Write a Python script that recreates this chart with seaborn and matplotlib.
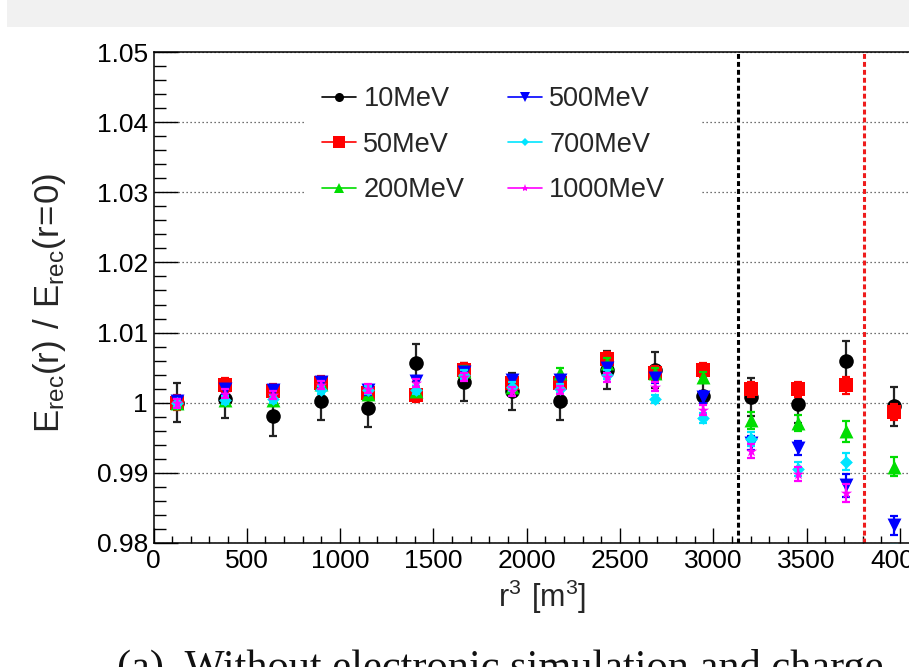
import numpy as np
import pandas as pd
import matplotlib
matplotlib.use("Agg")
import matplotlib.pyplot as plt
import seaborn as sns
from matplotlib.lines import Line2D
from matplotlib.patches import Rectangle
from matplotlib.ticker import MultipleLocator, FuncFormatter

# ---------------- data ----------------
r3 = [128, 384, 640, 896, 1152, 1408, 1664, 1920, 2176, 2432, 2688, 2944, 3200, 3456, 3712, 3968]

labels = ["10MeV", "50MeV", "200MeV", "500MeV", "700MeV", "1000MeV"]

e10 = [1.0000, 1.0005, 0.9981, 1.0003, 0.9993, 1.0057, 1.0030, 1.0016, 1.0003, 1.0047, 1.0047, 1.0009, 1.0008, 0.9998, 1.0060, 0.9995]
e50 = [1.0000, 1.0025, 1.0016, 1.0028, 1.0014, 1.0011, 1.0047, 1.0028, 1.0028, 1.0063, 1.0043, 1.0046, 1.0019, 1.0019, 1.0025, 0.9987]
e200 = [1.0000, 1.0004, 1.0004, 1.0027, 1.0013, 1.0017, 1.0045, 1.0023, 1.0042, 1.0057, 1.0043, 1.0036, 0.9975, 0.9971, 0.9959, 0.9909]
e500 = [1.0002, 1.0019, 1.0018, 1.0030, 1.0018, 1.0031, 1.0044, 1.0032, 1.0033, 1.0049, 1.0035, 1.0008, 0.9942, 0.9935, 0.9882, 0.9825]
e700 = [1.0000, 1.0004, 1.0005, 1.0018, 1.0018, 1.0018, 1.0040, 1.0023, 1.0020, 1.0040, 1.0005, 0.9978, 0.9948, 0.9906, 0.9916, 0.9785]
e1000 = [0.9999, 1.0013, 1.0011, 1.0025, 1.0020, 1.0028, 1.0037, 1.0016, 1.0018, 1.0036, 1.0023, 0.9990, 0.9931, 0.9899, 0.9871, 0.9770]

err10 = [0.0028, 0.0027, 0.0028, 0.0027, 0.0027, 0.0027, 0.0027, 0.0027, 0.0027, 0.0027, 0.0026, 0.0027, 0.0027, 0.0027, 0.0028, 0.0028]
err50 = [0.0011, 0.0010, 0.0010, 0.0010, 0.0010, 0.0010, 0.0010, 0.0010, 0.0010, 0.0010, 0.0010, 0.0010, 0.0011, 0.0011, 0.0012, 0.0011]
err200 = [0.0007, 0.0007, 0.0007, 0.0007, 0.0007, 0.0007, 0.0007, 0.0007, 0.0007, 0.0007, 0.0007, 0.0008, 0.0012, 0.0012, 0.0015, 0.0013]
err500 = [0.0007, 0.0007, 0.0007, 0.0007, 0.0007, 0.0007, 0.0007, 0.0007, 0.0007, 0.0007, 0.0007, 0.0008, 0.0010, 0.0010, 0.0017, 0.0014]
err700 = [0.0006, 0.0006, 0.0006, 0.0006, 0.0006, 0.0006, 0.0006, 0.0006, 0.0006, 0.0006, 0.0006, 0.0007, 0.0010, 0.0010, 0.0012, 0.0012]
err1000 = [0.0006, 0.0006, 0.0006, 0.0006, 0.0006, 0.0006, 0.0006, 0.0006, 0.0006, 0.0006, 0.0006, 0.0007, 0.0010, 0.0010, 0.0013, 0.0013]

vlines_x = [3130, 3805]

values = [e10, e50, e200, e500, e700, e1000]
errors = [err10, err50, err200, err500, err700, err1000]

# ---------------- style ----------------
colors = ["#000000", "#ff0000", "#00dd00", "#0000ff", "#00e5ff", "#ff00ff"]
markers = ["o", "s", "^", "v", "D", "*"]
msizes = [10.5, 9.5, 10, 10, 6.5, 8.5]
leg_msizes = [6.5, 9, 7.5, 7.5, 4.5, 6]

sns.set_theme(style="ticks")
plt.rcParams["font.family"] = ["Liberation Sans", "DejaVu Sans"]
plt.rcParams["mathtext.fontset"] = "custom"
plt.rcParams["mathtext.rm"] = "Liberation Sans"

W, H = 909, 667
fig = plt.figure(figsize=(W / 100, H / 100), dpi=100)
fig.patch.set_facecolor("white")

# top grey band of the screenshot
fig.patches.append(Rectangle((7 / W, 1 - 27 / H), 1, 27 / H, transform=fig.transFigure,
                             facecolor="#f1f1f1", edgecolor="none", zorder=0))

x0px, x4000px = 153.5, 900.0
xmax = 4400
pxu = (x4000px - x0px) / 4000
ax_right_px = x0px + xmax * pxu
ax = fig.add_axes([x0px / W, (H - 543) / H, (ax_right_px - x0px) / W, (543 - 52) / H])
ax.set_facecolor("white")

df = pd.DataFrame({
    "r3": np.tile(r3, len(labels)),
    "ratio": np.concatenate(values),
    "err": np.concatenate(errors),
    "energy": np.repeat(labels, len(r3)),
})

for i, lab in enumerate(labels):
    sub = df[df["energy"] == lab]
    ax.errorbar(sub["r3"], sub["ratio"], yerr=sub["err"], fmt="none",
                ecolor="#222222" if i == 0 else colors[i],
                elinewidth=1.6, capsize=3.0, capthick=1.6, zorder=2 + i)
    sns.scatterplot(data=sub, x="r3", y="ratio", ax=ax, color=colors[i], marker=markers[i],
                    s=msizes[i] ** 2, linewidth=0, zorder=2.5 + i, legend=False)

for xv, c in zip(vlines_x, ["black", "#ee1c1c"]):
    ax.axvline(xv, color=c, lw=2.2, ls=(0, (1.6, 1.0)), zorder=1.8)

ax.set_xlim(0, xmax)
ax.set_ylim(0.98, 1.05)
ax.set_xlabel("")
ax.set_ylabel("")

ax.xaxis.set_major_locator(MultipleLocator(500))
ax.xaxis.set_minor_locator(MultipleLocator(100))
ax.yaxis.set_major_locator(MultipleLocator(0.01))
ax.yaxis.set_minor_locator(MultipleLocator(0.002))
ax.yaxis.set_major_formatter(FuncFormatter(lambda v, p: f"{round(v, 2):g}"))
ax.xaxis.set_major_formatter(FuncFormatter(lambda v, p: f"{int(round(v))}"))

ax.tick_params(axis="both", which="both", direction="in", colors="black", labelsize=19,
               width=1.0, top=False, right=False)
ax.tick_params(axis="x", which="major", length=10.8, pad=4.5)
ax.tick_params(axis="x", which="minor", length=5.4)
ax.tick_params(axis="y", which="major", length=17, pad=4)
ax.tick_params(axis="y", which="minor", length=8.5)

for s in ax.spines.values():
    s.set_color("black")
    s.set_linewidth(1.1)

ax.set_axisbelow(True)
ax.yaxis.grid(True, which="major", color="#444444", lw=0.9, ls=(0, (1, 2.2)))
ax.xaxis.grid(False)

# white legend box hiding the grid
lx0 = (305 - x0px) / (ax_right_px - x0px)
lx1 = (700 - x0px) / (ax_right_px - x0px)
ly0 = (543 - 215) / 491
ly1 = (543 - 55) / 491
ax.add_patch(Rectangle((lx0, ly0), lx1 - lx0, ly1 - ly0, transform=ax.transAxes,
                       facecolor="white", edgecolor="none", zorder=1.5))

handles = [Line2D([0], [0], color=colors[i], lw=1.2, marker=markers[i],
                  markersize=leg_msizes[i], markeredgewidth=0) for i in range(len(labels))]
fig.legend(handles, labels, ncol=2, loc="upper left",
           bbox_to_anchor=(322 / W, 1 - 86 / H), frameon=False, borderpad=0,
           borderaxespad=0, handlelength=1.25, handletextpad=0.28, columnspacing=1.6,
           labelspacing=0.72, fontsize=19.5)

fig.text(50 / W, 1 - 303 / H, r"$\mathregular{E_{rec}(r)\ /\ E_{rec}(r\!=\!0)}$",
         rotation=90, ha="center", va="center", fontsize=25)
fig.text(542 / W, 1 - 597 / H, r"$\mathregular{r^{3}\ [m^{3}]}$",
         ha="center", va="center", fontsize=22)

fig.text(117 / W, (H - 679) / H, "(a)  Without electronic simulation and charge",
         family=["Liberation Serif", "DejaVu Serif"], fontsize=30.5, ha="left",
         va="baseline", color="#111111")

fig.savefig("out.png", dpi=100)
